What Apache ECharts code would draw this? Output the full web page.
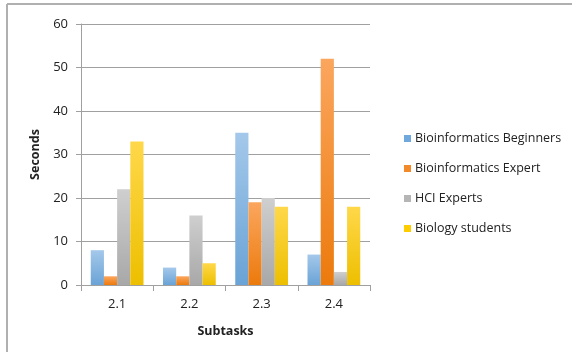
<!DOCTYPE html>
<html><head><meta charset="utf-8">
<script src="https://cdn.jsdelivr.net/npm/echarts@6/dist/echarts.min.js"></script>
<style>html,body{margin:0;padding:0;background:#fff}#c{width:572px;height:352px}</style>
</head><body><div id="c"></div>
<script>
const categories = ['2.1', '2.2', '2.3', '2.4'];
const seriesNames = ['Bioinformatics Beginners', 'Bioinformatics Expert', 'HCI Experts', 'Biology students'];
const beginners = [8, 4, 35, 7];
const expert = [2, 2, 19, 52];
const hci = [22, 16, 20, 3];
const biology = [33, 5, 18, 18];
const yTicks = [0, 10, 20, 30, 40, 50, 60];

const values = [beginners, expert, hci, biology];
const grads = [['#a4c8ea', '#6aa3d6'], ['#fba65e', '#ec7a0c'], ['#d0cfcf', '#a9a8a8'], ['#ffd84a', '#edbf00']];
const legendColors = ['#6fa8dc', '#f28a2a', '#b5b5b5', '#ffcc00'];
const font = 'Open Sans';
const chart = echarts.init(document.getElementById('c'), null, {renderer: 'canvas'});
chart.setOption({
  animation: false,
  backgroundColor: '#fff',
  graphic: [
    {type: 'line', shape: {x1: 7, y1: 4, x2: 572, y2: 4}, style: {stroke: '#b0b0b0', lineWidth: 2}, silent: true},
    {type: 'line', shape: {x1: 7, y1: 4, x2: 7, y2: 352}, style: {stroke: '#b0b0b0', lineWidth: 2}, silent: true}
  ],
  grid: {left: 81, right: 202, top: 24, bottom: 67},
  legend: {
    orient: 'vertical', left: 399, top: 127, itemGap: 17, itemWidth: 7, itemHeight: 7,
    icon: 'rect', textStyle: {fontFamily: font, fontSize: 12.5, color: '#222', padding: [0, 0, 0, -1]},
    data: seriesNames.map((n, i) => ({name: n, itemStyle: {color: legendColors[i]}}))
  },
  xAxis: {
    type: 'category', data: categories,
    name: 'Subtasks', nameLocation: 'middle', nameGap: 40,
    nameTextStyle: {fontFamily: font, fontSize: 12.5, fontWeight: 'bold', color: '#222'},
    axisLine: {lineStyle: {color: '#a0a0a0', width: 1}},
    axisTick: {show: true, length: 6, lineStyle: {color: '#a0a0a0'}},
    axisLabel: {fontFamily: font, fontSize: 13, color: '#222', margin: 13}
  },
  yAxis: {
    type: 'value', min: yTicks[0], max: yTicks[yTicks.length - 1], interval: 10,
    name: 'Seconds', nameLocation: 'middle', nameGap: 37, nameRotate: 90,
    nameTextStyle: {fontFamily: font, fontSize: 12.5, fontWeight: 'bold', color: '#222'},
    axisLine: {show: true, lineStyle: {color: '#a0a0a0', width: 1}},
    axisTick: {show: true, length: 5, lineStyle: {color: '#a0a0a0'}},
    axisLabel: {fontFamily: font, fontSize: 13, color: '#222', margin: 13},
    splitLine: {lineStyle: {color: '#a0a0a0', width: 1}}
  },
  series: seriesNames.map((n, i) => ({
    name: n, type: 'bar', data: values[i], barGap: '0%', barCategoryGap: '27%',
    itemStyle: {color: new echarts.graphic.LinearGradient(0, 0, 0, 1, [{offset: 0, color: grads[i][0]}, {offset: 1, color: grads[i][1]}])}
  }))
});
</script></body></html>
